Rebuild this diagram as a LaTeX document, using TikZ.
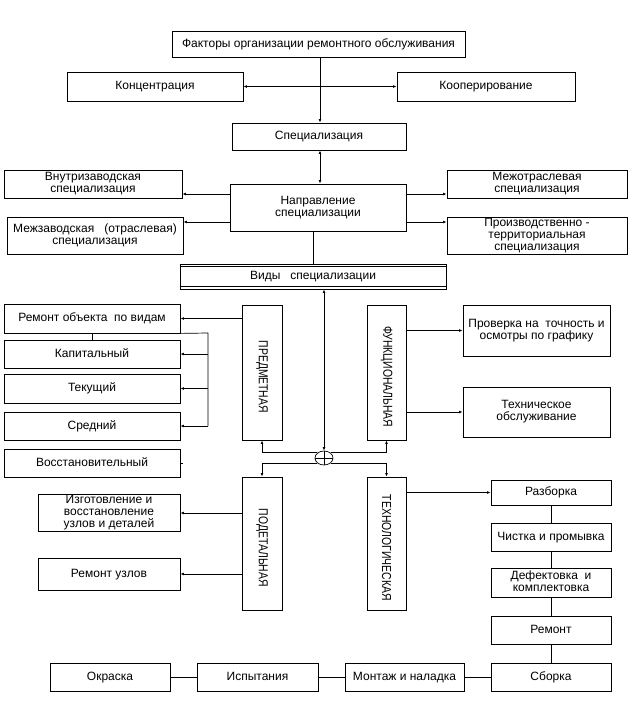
\documentclass[tikz,border=0pt]{standalone}
\usepackage{fontspec}
\setmainfont{Liberation Sans}
\usepackage{graphicx}
\usetikzlibrary{arrows.meta,shapes.geometric}
\newcommand\bx[6]{\pgfmathsetmacro\bxw{#4-#2}\pgfmathsetmacro\bxh{#5-#3}\node[box,minimum width=\bxw pt,minimum height=\bxh pt] (#1) at ({(#2+#4)/2},{(#3+#5)/2}) {#6};}
\newcommand\vtext[1]{\rotatebox{-90}{\scalebox{0.8}[1]{\fontsize{13}{13}\selectfont #1}}}
\newcommand\mystrut{\rule[-2.2pt]{0pt}{10.8pt}}
\begin{document}
\begin{tikzpicture}[x=1pt,y=-1pt,
  box/.style={draw,line width=0.8pt,align=center,inner sep=1pt,font=\fontsize{12}{12}\selectfont,
    execute at begin node=\mystrut, execute at end node=\mystrut},
  ln/.style={line width=0.7pt},
  arr/.style={ln,-{Latex[length=3.5pt,width=2.8pt]}},
  arrb/.style={ln,{Latex[length=3.5pt,width=2.8pt]}-{Latex[length=3.5pt,width=2.8pt]}}]
\fill[white] (0,0) rectangle (636,718);
\useasboundingbox (0,0) rectangle (636,718);
% top part
\bx{fact}{172}{31}{465}{57}{Факторы организации ремонтного обслуживания}
\bx{konc}{67}{72}{243}{101}{Концентрация}
\bx{koop}{397}{72}{575}{101}{Кооперирование}
\bx{spec}{232}{123}{406}{150}{Специализация}
\bx{vnutri}{4}{170}{182}{198}{Внутризаводская\\специализация}
\bx{mezhotr}{447}{170}{627}{198}{Межотраслевая\\специализация}
\bx{napr}{230}{184}{406}{231}{Направление\\специализации}
\bx{mezhz}{7}{217}{183}{254}{Межзаводская\ \ \ (отраслевая)\\специализация}
\bx{proizv}{447}{217}{627}{254}{Производственно -\\территориальная\\специализация}
\bx{vidy}{180}{264}{446}{289}{Виды\ \ \ специализации}
\draw[line width=0.8pt] ([yshift=-3pt]vidy.north west) -- ([yshift=-3pt]vidy.north east);
\draw[line width=0.8pt] ([yshift=3pt]vidy.south west) -- ([yshift=3pt]vidy.south east);
% middle part
\bx{pred}{242}{305}{282}{440}{\vtext{ПРЕДМЕТНАЯ}}
\bx{func}{367}{305}{406}{440}{\vtext{ФУНКЦИОНАЛЬНАЯ}}
\bx{podet}{242}{477}{282}{610}{\vtext{ПОДЕТАЛЬНАЯ}}
\bx{tehn}{367}{477}{406}{610}{\vtext{ТЕХНОЛОГИЧЕСКАЯ}}
\node[draw,ellipse,line width=0.7pt,minimum width=18pt,minimum height=14pt,inner sep=0pt] (circ) at (324,458) {};
\bx{remobj}{4}{304}{180}{333}{Ремонт объекта\ \ по видам}
\bx{kap}{4}{340}{180}{368}{Капитальный}
\bx{tek}{4}{374}{180}{403}{Текущий}
\bx{sred}{4}{412}{180}{440}{Средний}
\bx{vosst}{4}{449}{180}{477}{Восстановительный}
\bx{prov}{463}{305}{610}{356}{Проверка на\ \ точность и\\осмотры по графику}
\bx{tehobs}{463}{387}{610}{437}{Техническое\\обслуживание}
\bx{izgot}{38}{495}{180}{531}{Изготовление и\\восстановление\\узлов и деталей}
\bx{remuzl}{38}{558}{180}{590}{Ремонт узлов}
\bx{razb}{491}{480}{611}{505}{Разборка}
\bx{chist}{491}{523}{611}{551}{Чистка и промывка}
\bx{def}{491}{568}{611}{597}{Дефектовка\ \ и\\комплектовка}
\bx{rem}{491}{616}{611}{644}{Ремонт}
\bx{sbor}{491}{663}{611}{691}{Сборка}
\bx{mont}{345}{663}{464}{691}{Монтаж и наладка}
\bx{isp}{197}{663}{318}{691}{Испытания}
\bx{okr}{50}{663}{170}{691}{Окраска}
% helper coordinates
\coordinate (xa) at (320,0);
\coordinate (xb) at (313,0);
\coordinate (ya) at (0,194);
\coordinate (yb) at (0,222);
\coordinate (brk) at (208,333);
% connectors top
\draw[arr] (fact.south -| xa) -- (spec.north -| xa);
\draw[arrb] (konc.east) -- (koop.west);
\draw[arrb] (spec.south -| xa) -- (napr.north -| xa);
\draw[arr] (napr.west |- ya) -- (vnutri.east |- ya);
\draw[arr] (napr.west |- yb) -- (mezhz.east |- yb);
\draw[arr] (napr.east |- ya) -- (mezhotr.west |- ya);
\draw[arr] (napr.east |- yb) -- (proizv.west |- yb);
\draw[ln] (napr.south -| xb) -- (vidy.north -| xb);
\draw[arrb] (vidy.south -| circ) -- (circ.north);
\draw[ln] (circ.north) -- (circ.south) (circ.west) -- (circ.east);
% branches from circle
\draw[arr] (circ.north west) -| (pred.south);
\draw[arr] (circ.north east) -| (func.south);
\draw[arr] (circ.south west) -| (podet.north);
\draw[arr] (circ.south east) -| (tehn.north);
% left side
\draw[arr] (pred.west |- remobj.east) -- (remobj.east);
\draw[ln] (remobj.south) -- (kap.north);
\draw[ln] (remobj.south east) -- (brk) -- (brk |- sred.east);
\draw[arr] (brk |- kap.east) -- (kap.east);
\draw[arr] (brk |- tek.east) -- (tek.east);
\draw[arr] (brk |- sred.east) -- (sred.east);
\draw[ln] (vosst.east) -- ++(3,0);
\draw[arr] (podet.west |- izgot.east) -- (izgot.east);
\draw[arr] (podet.west |- remuzl.east) -- (remuzl.east);
% right side
\draw[arr] (func.east |- prov.west) -- (prov.west);
\draw[arr] (func.east |- tehobs.west) -- (tehobs.west);
\draw[arr] (tehn.east |- razb.west) -- (razb.west);
\draw[ln] (razb) -- (chist) (chist) -- (def) (def) -- (rem) (rem) -- (sbor);
\draw[ln] (sbor) -- (mont) (mont) -- (isp) (isp) -- (okr);
\end{tikzpicture}
\end{document}
